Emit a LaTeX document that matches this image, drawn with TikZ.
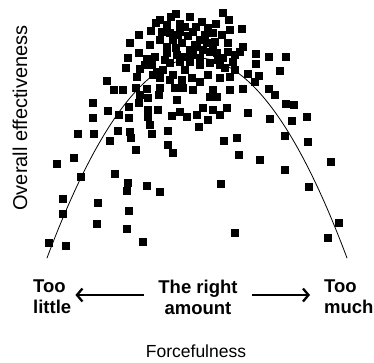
\documentclass[tikz,border=0pt]{standalone}
\usepackage{fontspec}
\setmainfont{Liberation Sans}
\usetikzlibrary{arrows.meta}
\tikzset{
  sq/.style={fill=black, inner sep=0pt, minimum size=7.4pt},
  lab/.style={font=\bfseries\fontsize{18.5}{21}\selectfont, inner sep=0pt},
  arr/.style={line width=2.3pt, -{Straight Barb[length=5.5pt,width=13pt,line width=2.3pt]}, line cap=butt}
}
\begin{document}
\begin{tikzpicture}[x=1pt,y=-1pt, line join=round, line cap=round]
\def\h{197} \def\k{58} \def\w{150} \def\d{200} % vertex, half width, depth
\useasboundingbox (0,0) rectangle (374,362);
\draw[line width=0.8pt,smooth,samples=200,domain=47:347] plot(\x,{\k+\d*((\x-\h)/\w)^2});
% data points
\foreach \px/\py in {171/17,190/17,223/13,229/20,202/22,156/23,167/25,180/24,185/27,216/24,
  242/29,151/31,139/35,213/33,222/35,170/33,180/32,193/32,173/40,182/43,167/47,130/43,
  200/40,207/43,197/47,213/48,228/43,243/47,240/52,256/54,139/53,128/58,147/59,155/57,
  167/53,177/55,185/57,193/55,203/50,217/53,223/58,233/62,269/57,286/57,256/64,126/68,
  140/69,152/65,157/72,163/70,170/63,180/62,190/62,200/65,210/63,220/65,280/71,137/77,
  160/78,153/75,173/75,182/80,192/78,200/82,208/75,220/78,230/77,248/74,259/76,255/82,
  107/81,114/90,123/90,136/88,147/89,140/95,148/98,159/95,175/88,183/88,193/90,177/100,
  213/90,230/90,243/89,269/89,275/95,93/103,108/111,129/107,139/103,148/110,148/117,
  158/110,172/116,180/112,187/117,197/115,203/108,210/97,217/97,213/110,220/115,227/108,
  208/120,248/113,270/119,286/104,294/105,292/121,307/117,93/118,119/115,129/118,150/125,
  199/127,78/134,94/134,118/131,130/132,131/138,152/134,168/131,110/141,224/141,237/138,
  285/136,308/142,168/145,136/150,173/153,239/155,260/160,74/158,57/164,331/162,285/170,
  115/174,81/177,128/183,127/191,147/186,160/192,221/184,309/187,63/199,98/203,63/214,
  129/211,97/224,127/229,339/223,235/233,328/238,49/243,66/246,143/242,
  160/20,176/14,196/27,208/28,188/36,205/35,176/48,160/40,165/60,195/45,215/42,230/30,
  235/55,225/68,185/70,170/80,150/45,145/65,160/88,200/58,210/52,190/50,178/35,218/60,
  235/70,162/32,228/52}
  \node[sq] at (\px,\py) {};
\node[lab, align=left, anchor=west] (little) at (33,297) {Too\\little};
\node[lab, align=center] (right) at (198,297) {The right\\amount};
\node[lab, align=left, anchor=west] (much) at (324,297) {Too\\much};
\draw[arr] ([xshift=-14pt,yshift=2pt]right.west) -- ([xshift=4pt,yshift=2pt]little.east);
\draw[arr] ([xshift=14pt,yshift=2pt]right.east) -- ([xshift=-14pt,yshift=2pt]much.west);
\node[font=\fontsize{17.5}{20}\selectfont] (xlab) at (196,351) {Forcefulness};
\node[font=\fontsize{20}{22}\selectfont, rotate=90] (ylab) at (20,118) {Overall effectiveness};
\end{tikzpicture}
\end{document}
